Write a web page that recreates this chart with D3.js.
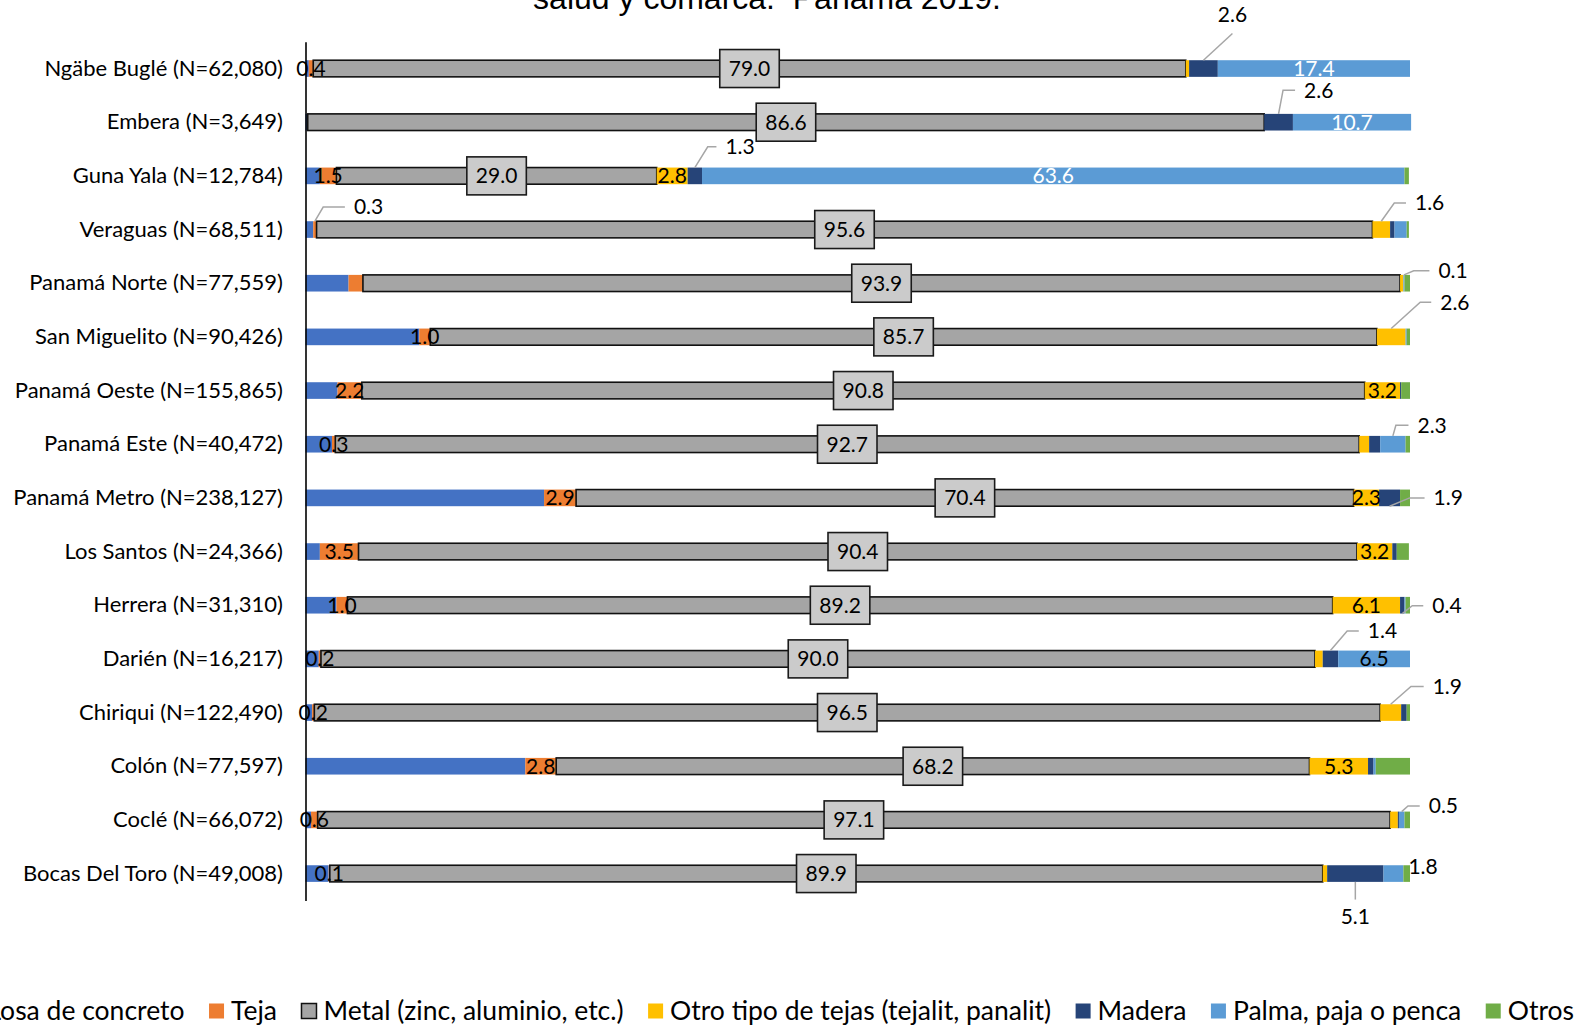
<!DOCTYPE html>
<html>
<head>
<meta charset="utf-8">
<script src="https://cdn.jsdelivr.net/npm/d3@7"></script>
<style>
  html, body { margin: 0; padding: 0; background: #fff; }
  svg { display: block; }
  text { font-family: Lato, "Noto Sans", sans-serif; }
</style>
</head>
<body>
<svg id="chart" width="1585" height="1026"></svg>
<script>
// Roof material of dwellings by health region / comarca (percent of dwellings)
const categories = [
  "Ngäbe Buglé (N=62,080)", "Embera (N=3,649)", "Guna Yala (N=12,784)",
  "Veraguas (N=68,511)", "Panamá Norte (N=77,559)", "San Miguelito (N=90,426)",
  "Panamá Oeste (N=155,865)", "Panamá Este (N=40,472)", "Panamá Metro (N=238,127)",
  "Los Santos (N=24,366)", "Herrera (N=31,310)", "Darién (N=16,217)",
  "Chiriqui (N=122,490)", "Colón (N=77,597)", "Coclé (N=66,072)", "Bocas Del Toro (N=49,008)"
];
const seriesNames = [
  "Losa de concreto", "Teja", "Metal (zinc, aluminio, etc.)",
  "Otro tipo de tejas (tejalit, panalit)", "Madera", "Palma, paja o penca", "Otros"
];
const losa   = [0.3, 0.2, 1.3, 0.7, 3.9, 10.3, 2.9, 2.4, 21.6, 1.3, 2.8, 1.2, 0.6, 19.9, 0.5, 2.1];
const teja   = [0.4, 0.0, 1.5, 0.3, 1.3, 1.0, 2.2, 0.3, 2.9, 3.5, 1.0, 0.2, 0.2, 2.8, 0.6, 0.1];
const metal  = [79.0, 86.6, 29.0, 95.6, 93.9, 85.7, 90.8, 92.7, 70.4, 90.4, 89.2, 90.0, 96.5, 68.2, 97.1, 89.9];
const otro   = [0.3, 0.0, 2.8, 1.6, 0.3, 2.6, 3.2, 0.9, 2.3, 3.2, 6.1, 0.7, 1.9, 5.3, 0.7, 0.4];
const madera = [2.6, 2.6, 1.3, 0.4, 0.0, 0.0, 0.1, 1.0, 1.9, 0.4, 0.4, 1.4, 0.5, 0.5, 0.1, 5.1];
const palma  = [17.4, 10.7, 63.6, 1.1, 0.1, 0.1, 0.0, 2.3, 0.0, 0.0, 0.1, 6.5, 0.0, 0.2, 0.5, 1.8];
const otros  = [0.0, 0.0, 0.4, 0.2, 0.5, 0.3, 0.8, 0.4, 0.9, 1.1, 0.4, 0.0, 0.3, 3.1, 0.5, 0.6];

const keys = ["losa", "teja", "metal", "otro", "madera", "palma", "otros"];
const colors = {
  losa: "#4472C4", teja: "#ED7D31", metal: "#A5A5A5", otro: "#FFC000",
  madera: "#264478", palma: "#5B9BD5", otros: "#70AD47"
};
const rows = categories.map((c, i) => ({
  cat: c, losa: losa[i], teja: teja[i], metal: metal[i], otro: otro[i],
  madera: madera[i], palma: palma[i], otros: otros[i]
}));

// ---- layout ----
const svg = d3.select("#chart");
const x = d3.scaleLinear().domain([0, 100]).range([305.5, 1410]);
const y = d3.scaleBand().domain(categories).range([41.7, 900.4])
  .paddingInner(0.69).paddingOuter(0.345);
const bw = y.bandwidth();

// title (only its last line falls inside the frame)
svg.append("text")
  .attr("x", 767).attr("y", 9)
  .attr("text-anchor", "middle")
  .style("font-family", "'Liberation Sans', Arial, sans-serif")
  .style("font-size", "32px").style("white-space", "pre")
  .attr("fill", "#000")
  .text("salud y comarca.  Panamá 2019.");

// stacked bars
const stacked = d3.stack().keys(keys)(rows);
const layers = svg.append("g").selectAll("g").data(stacked).join("g")
  .attr("fill", d => colors[d.key]);
layers.selectAll("rect").data(d => d.map(p => ({ p, key: d.key })))
  .join("rect")
  .attr("x", d => x(d.p[0]))
  .attr("y", d => y(d.p.data.cat))
  .attr("width", d => Math.max(0, x(d.p[1]) - x(d.p[0])))
  .attr("height", bw)
  .attr("stroke", d => d.key === "metal" ? "#111" : "none")
  .attr("stroke-width", d => d.key === "metal" ? 1.6 : 0);

// category axis
const axis = svg.append("g")
  .attr("transform", `translate(${x(0)},0)`)
  .call(d3.axisLeft(y).tickSize(0).tickSizeOuter(0).tickPadding(22.5));
axis.select(".domain").attr("stroke", "#000").attr("stroke-width", 1.6);
axis.selectAll("text").style("font-family", "Lato, sans-serif")
  .style("font-size", "22px").attr("fill", "#000");

// helpers
const seg = (cat, key) => {
  const layer = stacked.find(s => s.key === key);
  const p = layer[categories.indexOf(cat)];
  return { x0: x(p[0]), x1: x(p[1]), cx: (x(p[0]) + x(p[1])) / 2,
           top: y(cat), bottom: y(cat) + bw, cy: y(cat) + bw / 2,
           v: p[1] - p[0] };
};
const fmt = d3.format(".1f");
const valueOf = (cat, key) => rows[categories.indexOf(cat)][key];
const labelFont = "21px";
const gLab = svg.append("g");

// boxed labels on the metal segments
categories.forEach(cat => {
  const s = seg(cat, "metal");
  const t = gLab.append("text").attr("x", s.cx).attr("y", s.cy).attr("dy", "0.35em")
    .attr("text-anchor", "middle").style("font-size", labelFont).attr("fill", "#000")
    .text(fmt(valueOf(cat, "metal")));
  const w = t.node().getComputedTextLength();
  gLab.insert("rect", () => t.node())
    .attr("x", s.cx - w / 2 - 9).attr("y", s.cy - 19)
    .attr("width", w + 18).attr("height", 38)
    .attr("fill", "#CBCBCB").attr("stroke", "#1a1a1a").attr("stroke-width", 1.6);
});

// labels centred on their segments
const inside = [
  ["Ngäbe Buglé (N=62,080)", "teja", "#000"], ["Guna Yala (N=12,784)", "teja", "#000"],
  ["San Miguelito (N=90,426)", "teja", "#000"], ["Panamá Oeste (N=155,865)", "teja", "#000"],
  ["Panamá Este (N=40,472)", "teja", "#000"], ["Panamá Metro (N=238,127)", "teja", "#000"],
  ["Los Santos (N=24,366)", "teja", "#000"], ["Herrera (N=31,310)", "teja", "#000"],
  ["Darién (N=16,217)", "teja", "#000"], ["Chiriqui (N=122,490)", "teja", "#000"],
  ["Colón (N=77,597)", "teja", "#000"], ["Coclé (N=66,072)", "teja", "#000"],
  ["Bocas Del Toro (N=49,008)", "teja", "#000"],
  ["Guna Yala (N=12,784)", "otro", "#000"], ["Panamá Oeste (N=155,865)", "otro", "#000"],
  ["Panamá Metro (N=238,127)", "otro", "#000"], ["Los Santos (N=24,366)", "otro", "#000"],
  ["Herrera (N=31,310)", "otro", "#000"], ["Colón (N=77,597)", "otro", "#000"],
  ["Ngäbe Buglé (N=62,080)", "palma", "#fff"], ["Embera (N=3,649)", "palma", "#fff"],
  ["Guna Yala (N=12,784)", "palma", "#fff"], ["Darién (N=16,217)", "palma", "#000"]
];
inside.forEach(([cat, key, col]) => {
  const s = seg(cat, key);
  gLab.append("text").attr("x", s.cx).attr("y", s.cy).attr("dy", "0.35em")
    .attr("text-anchor", "middle").style("font-size", labelFont).attr("fill", col)
    .text(fmt(valueOf(cat, key)));
});

// call-out labels with leader lines (offsets relative to the segment centre)
const callouts = [
  { cat: "Ngäbe Buglé (N=62,080)", key: "madera", mode: "above", dx: 29, dy: -53.5 },
  { cat: "Embera (N=3,649)", key: "madera", dx: 25.5, dy: -32, elbow: 21 },
  { cat: "Guna Yala (N=12,784)", key: "madera", dx: 30.6, dy: -29, elbow: 17.7 },
  { cat: "Veraguas (N=68,511)", key: "teja", dx: 39, dy: -22.5, elbow: 30.7 },
  { cat: "Veraguas (N=68,511)", key: "otro", dx: 33.7, dy: -26.5, elbow: 20.7 },
  { cat: "Panamá Norte (N=77,559)", key: "palma", dx: 34.5, dy: -12.5, elbow: 24.7 },
  { cat: "San Miguelito (N=90,426)", key: "otro", dx: 49, dy: -34.6, elbow: 20 },
  { cat: "Panamá Este (N=40,472)", key: "palma", dx: 24.6, dy: -19, elbow: 21.6 },
  { cat: "Panamá Metro (N=238,127)", key: "madera", dx: 44, dy: 0, elbow: 24, from: "bottom" },
  { cat: "Herrera (N=31,310)", key: "madera", dx: 30, dy: 0.5, elbow: 20, from: "bottom" },
  { cat: "Darién (N=16,217)", key: "madera", dx: 37.3, dy: -28, elbow: 20.6 },
  { cat: "Chiriqui (N=122,490)", key: "otro", dx: 42, dy: -26, elbow: 21.7 },
  { cat: "Coclé (N=66,072)", key: "palma", dx: 27, dy: -14, elbow: 20.7 },
  { cat: "Bocas Del Toro (N=49,008)", key: "madera", mode: "below", dx: 0, dy: 43 },
  { cat: "Bocas Del Toro (N=49,008)", key: "palma", mode: "plain", dx: 15, dy: -7 }
];
const leader = { stroke: "#A6A6A6", width: 1.5 };
callouts.forEach(c => {
  const s = seg(c.cat, c.key);
  const lx = s.cx + c.dx, ly = s.cy + c.dy;
  const txt = fmt(valueOf(c.cat, c.key));
  if (c.mode === "above") {
    svg.append("path").attr("d", `M${s.cx},${s.top}L${lx},${ly + 18.5}`)
      .attr("fill", "none").attr("stroke", leader.stroke).attr("stroke-width", leader.width);
    gLab.append("text").attr("x", lx).attr("y", ly).attr("dy", "0.35em")
      .attr("text-anchor", "middle").style("font-size", labelFont).text(txt);
  } else if (c.mode === "below") {
    svg.append("path").attr("d", `M${s.cx},${s.bottom}L${s.cx},${ly - 17}`)
      .attr("fill", "none").attr("stroke", leader.stroke).attr("stroke-width", leader.width);
    gLab.append("text").attr("x", lx).attr("y", ly).attr("dy", "0.35em")
      .attr("text-anchor", "middle").style("font-size", labelFont).text(txt);
  } else if (c.mode === "plain") {
    gLab.append("text").attr("x", lx).attr("y", ly).attr("dy", "0.35em")
      .style("font-size", labelFont).text(txt);
  } else {
    const y0 = c.from === "bottom" ? s.bottom : s.top;
    svg.append("path")
      .attr("d", `M${s.cx},${y0}L${lx - c.elbow},${ly}L${lx - 9},${ly}`)
      .attr("fill", "none").attr("stroke", leader.stroke).attr("stroke-width", leader.width);
    gLab.append("text").attr("x", lx).attr("y", ly).attr("dy", "0.35em")
      .style("font-size", labelFont).text(txt);
  }
});

// legend: one row, its last entry ending near the right edge
const legend = svg.append("g").attr("transform", "translate(0,1011)");
const items = legend.selectAll("g").data(keys).join("g");
items.append("rect").attr("width", 15).attr("height", 15).attr("y", -7.5)
  .attr("fill", d => colors[d])
  .attr("stroke", d => d === "metal" ? "#111" : "none")
  .attr("stroke-width", d => d === "metal" ? 1.5 : 0);
items.append("text").attr("x", 22).attr("dy", "0.35em")
  .style("font-size", "26.5px").attr("fill", "#000")
  .text((d, i) => seriesNames[i]);
const gap = 24.5;
let cursor = 0;
const offsets = [];
items.each(function () {
  offsets.push(cursor);
  const w = d3.select(this).select("text").node().getComputedTextLength();
  cursor += 22 + w + gap;
});
const totalW = cursor - gap;
const startX = 1574 - totalW;
items.attr("transform", (d, i) => `translate(${startX + offsets[i]},0)`);
</script>
</body>
</html>
